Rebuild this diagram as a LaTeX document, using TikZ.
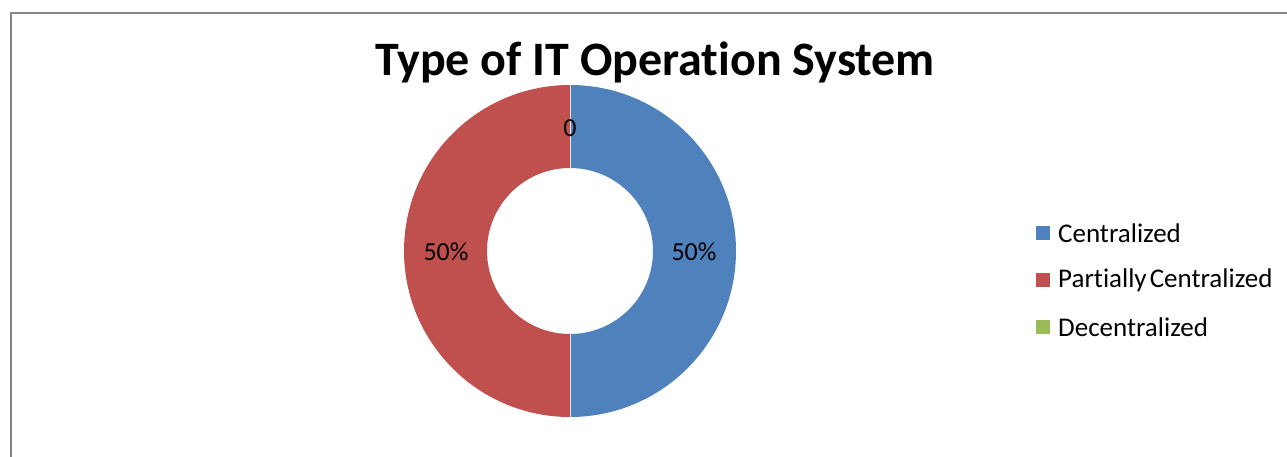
\documentclass[tikz,border=0pt]{standalone}
\usepackage{fontspec}
\setmainfont{Carlito}[Ligatures=NoCommon]
\definecolor{cblue}{HTML}{4F81BD}
\definecolor{cred}{HTML}{C0504D}
\definecolor{cgreen}{HTML}{9BBB59}
\definecolor{frame}{HTML}{868686}
\begin{document}
\begin{tikzpicture}[x=1pt,y=-1pt,
  lbl/.style={font=\fontsize{26}{30}\selectfont, inner sep=0pt},
  legsq/.style={minimum size=14pt, inner sep=0pt},
  legtxt/.style={font=\fontsize{27}{30}\selectfont, anchor=west, inner sep=0pt}]
\useasboundingbox (0,0) rectangle (1287,457);
% frame
\draw[frame, line width=2.2pt] (11,457) -- (11,13) -- (1287,13);
% title
\node[font=\bfseries\fontsize{48}{58}\selectfont, inner sep=0pt] (title) at (655,62) {Type of IT Operation System};
% donut
\fill[cblue] (570,85) arc[start angle=90, end angle=-90, radius=166pt] -- (570,334) arc[start angle=-90, end angle=90, radius=83pt] -- cycle;
\fill[cred] (570,85) arc[start angle=90, end angle=270, radius=166pt] -- (570,334) arc[start angle=270, end angle=90, radius=83pt] -- cycle;
\draw[white!80!gray, line width=0.8pt] (570,85) -- (570,168) (570,334) -- (570,417);
% labels
\node[lbl] (l0) at (570,128) {0};
\node[lbl] (lr) at (446,252) {50\%};
\node[lbl] (lb) at (694,252) {50\%};
% legend
\node[legsq, fill=cblue] (s1) at (1043,233) {};
\node[legsq, fill=cred] (s2) at (1043,280) {};
\node[legsq, fill=cgreen] (s3) at (1043,327) {};
\node[legtxt] (t1) at (1058,233) {Centralized};
\node[legtxt] (t2) at (1058,280) {Partially\hspace{-3pt} Centralized};
\node[legtxt] (t3) at (1058,327) {Decentralized};
\end{tikzpicture}
\end{document}
